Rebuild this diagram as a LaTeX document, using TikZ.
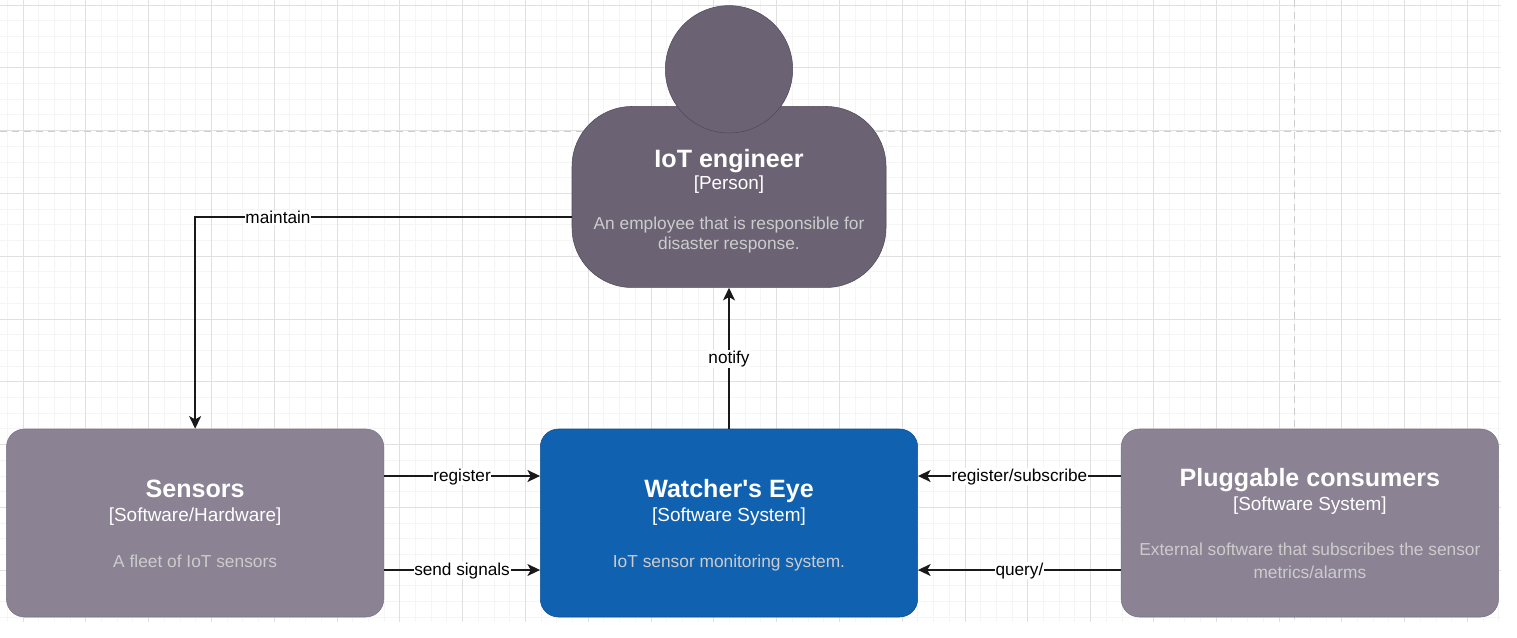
\documentclass[tikz,border=0pt]{standalone}
\usepackage{fontspec}
\setmainfont{Liberation Sans}[Ligatures=TeXOff]
\usetikzlibrary{shapes, arrows, arrows.meta, calc, positioning}
\definecolor{persondark}{HTML}{6B6374}
\definecolor{personline}{HTML}{4F4A57}
\definecolor{extgrey}{HTML}{8B8294}
\definecolor{extline}{HTML}{7A7283}
\definecolor{mainblue}{HTML}{1061B0}
\definecolor{mainline}{HTML}{0D5091}
\definecolor{desctext}{HTML}{CCCCCC}
\definecolor{gridminor}{HTML}{F5F5F5}
\definecolor{gridmajor}{HTML}{E0E0E0}
\definecolor{griddash}{HTML}{CDCDCD}
\tikzstyle{line} = [draw, -{Stealth[length=9.5pt, width=9pt, inset=2.5pt]}, line width=1.1pt, black!90]
\tikzstyle{block} = [rectangle, draw, text centered, align=center, text=white, font=\fontsize{13}{17.25}\selectfont, rounded corners=13.5pt, minimum width=283pt, minimum height=141pt, inner sep=0pt]
\tikzstyle{external} = [block, fill=extgrey, draw=extline]
\tikzstyle{tag} = [midway, yshift=-0.6pt, fill=white, text=black, inner sep=0.5pt, font=\fontsize{12.9}{15}\selectfont]
\newcommand{\descline}{\fontsize{13}{17.25}\selectfont\color{desctext}}
% title, type, gap below the title, gap below the type, description
\newcommand{\boxtext}[5]{\rule{0pt}{19.7pt}\fontsize{18.8}{18.8}\selectfont\textbf{#1}\\[#3]
  \fontsize{14.2}{14.2}\selectfont [#2]\\[#4]
  \descline #5\rule[-3pt]{0pt}{3pt}}

\begin{document}
\begin{tikzpicture}[x=0.75pt, y=-0.75pt, node distance=117pt, on grid=false]
\useasboundingbox (0,0) rectangle (1517,637);
% background grid
\foreach \k in {-1,...,94} \draw[gridminor, line width=0.75pt] ({23+15.7*\k},0) -- ({23+15.7*\k},622);
\foreach \k in {0,...,39} \draw[gridminor, line width=0.75pt] (0,{5+15.7*\k}) -- (1501,{5+15.7*\k});
\foreach \k in {0,...,23} \draw[gridmajor, line width=0.75pt] ({23+62.8*\k},0) -- ({23+62.8*\k},622);
\foreach \k in {0,...,9} \draw[gridmajor, line width=0.75pt] (0,{5+62.8*\k}) -- (1501,{5+62.8*\k});
\draw[griddash, line width=0.75pt, dash pattern=on 5pt off 4pt] (0,131) -- (1501,131);
\draw[griddash, line width=0.75pt, dash pattern=on 5pt off 4pt] (1294,0) -- (1294,622);
% nodes
\node [block, fill=mainblue, draw=mainline] (eye) at (729,523) {\boxtext{Watcher's Eye}{Software System}{0.75pt}{17pt}{IoT sensor monitoring system.\rule[-5.5pt]{0pt}{5.5pt}}};
\node [external, left=of eye] (sensors) {\boxtext{Sensors}{Software/Hardware}{0.75pt}{17pt}{A fleet of IoT sensors\rule[-5.5pt]{0pt}{5.5pt}}};
\node [external, right=152.25pt of eye] (consumers) {\boxtext{Pluggable consumers}{Software System}{0.75pt}{16.5pt}{External software that subscribes the sensor\\\descline metrics/alarms\rule[-6pt]{0pt}{6pt}}};
\node [block, above=105.75pt of eye, fill=persondark, draw=personline, minimum width=235.5pt, minimum height=135.75pt, rounded corners=45pt] (engineer) {\boxtext{IoT engineer}{Person}{-0.75pt}{12.75pt}{An employee that is responsible for\\[-2.25pt]\descline disaster response.}};
\node [circle, draw=personline, fill=persondark, above=-20.25pt of engineer, minimum size=95.5pt, inner sep=0pt] (head) {};
% connectors
\path [line] ([yshift=-15pt]engineer.west) -| node[tag, pos=0.39] {maintain} (sensors.north);
\path [line] (eye.north) -- node[tag] {notify} (engineer.south);
\path [line] ([yshift=35.25pt]sensors.east) -- node[tag] {register} ([yshift=35.25pt]eye.west);
\path [line] ([yshift=-35.25pt]sensors.east) -- node[tag] {send signals} ([yshift=-35.25pt]eye.west);
\path [line] ([yshift=35.25pt]consumers.west) -- node[tag] {register/subscribe} ([yshift=35.25pt]eye.east);
\path [line] ([yshift=-35.25pt]consumers.west) -- node[tag] {query/} ([yshift=-35.25pt]eye.east);
\end{tikzpicture}
\end{document}
